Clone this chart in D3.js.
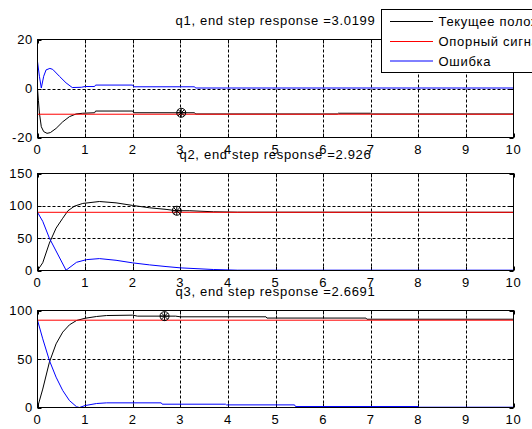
<!DOCTYPE html>
<html><head><meta charset="utf-8">
<script src="https://cdn.jsdelivr.net/npm/d3@7"></script>
<style>
body{margin:0;background:#fff;overflow:hidden}
text{font-family:"Liberation Sans",Arial,Helvetica,sans-serif;fill:#000}
</style></head>
<body><svg id="c" width="532" height="429"></svg>
<script>
// ---------- data ----------
const xTickValues = [0,1,2,3,4,5,6,7,8,9,10];
const titles = ["q1, end step response =3.0199","q2, end step response =2.926","q3, end step response =2.6691"];
const yTicks1 = [-20,0,20];
const yTicks2 = [0,50,100,150];
const yTicks3 = [0,50,100];
const legendLabels = ["Текущее положение","Опорный сигнал","Ошибка"];

// q1
const q1Time  = [0,0.02,0.04,0.08,0.13,0.2,0.27,0.39,0.53,0.67,0.81,0.95,1.2,1.22,2.0,2.02,3.3,3.32,6.3,6.32,7.0,7.02,10];
const q1Cur   = [0,-5,-10,-15.6,-17.6,-18.3,-18,-16.3,-13.6,-11.5,-10.4,-10.1,-9.9,-9.2,-9.2,-9.9,-9.9,-10.4,-10.4,-10.1,-10.1,-10.4,-10.4];
const q1RefT  = [0,10];
const q1Ref   = [-10.5,-10.5];
const q1ErrT  = [0,0.04,0.08,0.13,0.18,0.26,0.32,0.46,0.6,0.73,0.92,1.0,1.2,1.22,2.0,2.02,3.3,3.32,10];
const q1Err   = [11,5,0.2,5,7.6,8.2,7.8,5,2.3,0.4,0.5,0.8,0.8,1.4,1.4,0.7,0.7,0.2,0.2];

// q2
const q2Time  = [0,0.11,0.25,0.39,0.53,0.64,0.78,0.95,1.3,1.65,2.0,2.35,2.7,2.926,3.2,3.7,4.2,10];
const q2Cur   = [0,12,42.4,65.5,80.8,92.4,99.6,103.7,106.7,104.6,100.6,97,94.5,92.4,92.4,90.8,90.2,90];
const q2RefT  = [0,10];
const q2Ref   = [90,90];
const q2ErrT  = [0,0.11,0.25,0.6,0.82,1.03,1.3,1.65,2.0,2.35,2.7,3.0,3.7,4.2,10];
const q2Err   = [90,76,50,0.5,12.7,16.8,18.4,15.8,11.8,8.7,6.1,4.1,1.5,0.5,0.5];

// q3
const q3Time  = [0,0.11,0.25,0.39,0.53,0.67,0.82,1.0,1.24,1.45,2.0,2.1,2.9,3.0,4.8,4.82,6.9,6.92,10];
const q3Cur   = [0,19,46.7,65.6,77.7,85.2,89.7,92,93.8,94.8,95.2,94.2,94.2,93.5,93.5,92.2,92.2,91,91];
const q3RefT  = [0,10];
const q3Ref   = [90,90];
const q3ErrT  = [0,0.11,0.25,0.39,0.53,0.67,0.82,0.88,1.0,1.24,1.45,2.6,2.62,3.95,3.97,5.4,5.42,8.0,8.02,10];
const q3Err   = [90,70.8,48.5,31.3,17.5,7.2,0.8,0,2,4.1,4.8,4.8,3.4,3.4,2.7,2.7,1,1,0.3,0.3];

const markT = [3.0199,2.926,2.6691];
const markV = [-9.9,92.4,94.2];

// ---------- drawing ----------
const svg = d3.select("#c");
const L = 37.5, R = 513.5;
const panels = [
  {top:39.5, bottom:137.5, dom:[-20,20], ticks:yTicks1, cur:[q1Time,q1Cur], ref:[q1RefT,q1Ref], err:[q1ErrT,q1Err]},
  {top:173.5, bottom:270.5, dom:[0,150], ticks:yTicks2, cur:[q2Time,q2Cur], ref:[q2RefT,q2Ref], err:[q2ErrT,q2Err]},
  {top:310.5, bottom:407.5, dom:[0,100], ticks:yTicks3, cur:[q3Time,q3Cur], ref:[q3RefT,q3Ref], err:[q3ErrT,q3Err]}
];
const fs = 13, ls = "0.7px";

panels.forEach((p,i)=>{
  const x = d3.scaleLinear().domain([0,10]).range([L,R]);
  const y = d3.scaleLinear().domain(p.dom).range([p.bottom,p.top]);
  const g = svg.append("g");
  // grid
  xTickValues.slice(1,-1).forEach(v=>{
    g.append("line").attr("x1",Math.round(x(v))+0.5).attr("x2",Math.round(x(v))+0.5)
      .attr("y1",p.top).attr("y2",p.bottom)
      .attr("stroke","#000").attr("stroke-width",1).attr("stroke-dasharray","3,2");
  });
  p.ticks.slice(1,-1).forEach(v=>{
    g.append("line").attr("x1",L).attr("x2",R)
      .attr("y1",Math.round(y(v))+0.5).attr("y2",Math.round(y(v))+0.5)
      .attr("stroke","#000").attr("stroke-width",1).attr("stroke-dasharray","3,2");
  });
  // inner ticks
  xTickValues.forEach(v=>{
    const xx = Math.round(x(v))+0.5;
    g.append("line").attr("x1",xx).attr("x2",xx).attr("y1",p.bottom).attr("y2",p.bottom-4).attr("stroke","#000");
    g.append("line").attr("x1",xx).attr("x2",xx).attr("y1",p.top).attr("y2",p.top+4).attr("stroke","#000");
  });
  p.ticks.forEach(v=>{
    const yy = Math.round(y(v))+0.5;
    g.append("line").attr("x1",L).attr("x2",L+4).attr("y1",yy).attr("y2",yy).attr("stroke","#000");
    g.append("line").attr("x1",R).attr("x2",R-4).attr("y1",yy).attr("y2",yy).attr("stroke","#000");
  });
  // lines
  const line = d3.line().x(d=>x(d[0])).y(d=>y(d[1]));
  const series = [[p.cur,"#000"],[p.ref,"#ff0000"],[p.err,"#0000ff"]];
  series.forEach(([s,c])=>{
    const pts = s[0].map((t,k)=>[t,s[1][k]]);
    g.append("path").attr("d",line(pts)).attr("fill","none").attr("stroke",c).attr("stroke-width",1);
  });
  // marker
  const mx = x(markT[i]), my = y(markV[i]);
  g.append("circle").attr("cx",mx).attr("cy",my).attr("r",4.5).attr("fill","none").attr("stroke","#000").attr("stroke-width",1);
  g.append("line").attr("x1",mx-4.5).attr("x2",mx+4.5).attr("y1",my).attr("y2",my).attr("stroke","#000");
  g.append("line").attr("x1",mx).attr("x2",mx).attr("y1",my-4.5).attr("y2",my+4.5).attr("stroke","#000");
  g.append("line").attr("x1",mx-3.2).attr("x2",mx+3.2).attr("y1",my-3.2).attr("y2",my+3.2).attr("stroke","#000");
  g.append("line").attr("x1",mx-3.2).attr("x2",mx+3.2).attr("y1",my+3.2).attr("y2",my-3.2).attr("stroke","#000");
  // box
  g.append("rect").attr("x",L).attr("y",p.top).attr("width",R-L).attr("height",p.bottom-p.top)
    .attr("fill","none").attr("stroke","#000").attr("stroke-width",1);
  // x tick labels
  xTickValues.forEach(v=>{
    g.append("text").attr("x",x(v)).attr("y",p.bottom+16.5).attr("text-anchor","middle")
      .attr("font-size",fs).style("letter-spacing",ls).text(v);
  });
  // y tick labels
  p.ticks.forEach(v=>{
    g.append("text").attr("x",33).attr("y",y(v)+4.5).attr("text-anchor","end")
      .attr("font-size",fs).style("letter-spacing",ls).text(v);
  });
  // title
  g.append("text").attr("x",(L+R)/2).attr("y",p.top-14.5).attr("text-anchor","middle")
    .attr("font-size",fs).style("letter-spacing",ls).text(titles[i]);
});

// legend
const lg = svg.append("g");
lg.append("rect").attr("x",381.5).attr("y",9.5).attr("width",220).attr("height",63)
  .attr("fill","#fff").attr("stroke","#000").attr("stroke-width",1);
const legColors = ["#000","#ff0000","#0000ff"];
const legRows = [21.5,41.5,61];
legendLabels.forEach((lab,k)=>{
  lg.append("line").attr("x1",390).attr("x2",433).attr("y1",legRows[k]).attr("y2",legRows[k])
    .attr("stroke",legColors[k]).attr("stroke-width",1);
  lg.append("text").attr("x",438.5).attr("y",legRows[k]+4.5).attr("font-size",fs)
    .style("letter-spacing",ls).text(lab);
});
</script></body></html>
